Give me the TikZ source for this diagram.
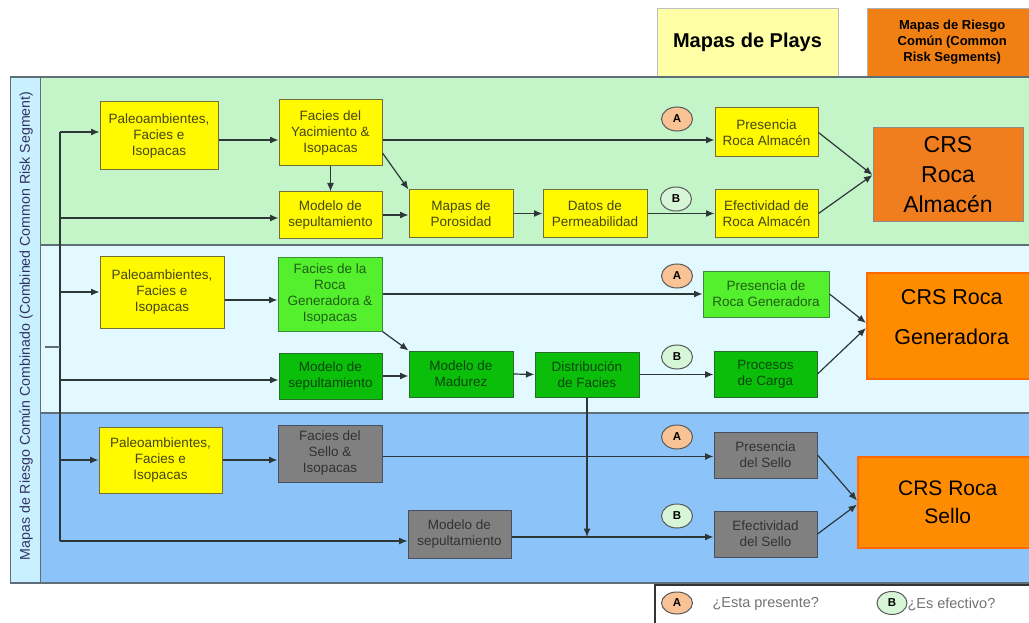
\documentclass[tikz,border=0pt]{standalone}
\usepackage{fontspec}
\setmainfont{Liberation Sans}
\usetikzlibrary{arrows.meta,shapes.geometric}
\definecolor{bandgreen}{RGB}{196,245,200}
\definecolor{bandcyan}{RGB}{226,250,255}
\definecolor{bandblue}{RGB}{140,196,250}
\definecolor{stripcol}{RGB}{200,240,255}
\definecolor{framecol}{RGB}{95,110,120}
\definecolor{linecol}{RGB}{45,55,55}
\definecolor{yfill}{RGB}{255,250,0}
\definecolor{ydraw}{RGB}{115,110,55}
\definecolor{ytext}{RGB}{70,70,20}
\definecolor{lgfill}{RGB}{85,240,45}
\definecolor{lgdraw}{RGB}{60,140,60}
\definecolor{lgtext}{RGB}{30,95,20}
\definecolor{dgfill}{RGB}{10,190,10}
\definecolor{dgdraw}{RGB}{40,110,40}
\definecolor{dgtext}{RGB}{10,70,10}
\definecolor{gfill}{RGB}{128,128,128}
\definecolor{gdraw}{RGB}{70,80,95}
\definecolor{gtext}{RGB}{50,50,50}
\definecolor{crsA}{RGB}{240,125,30}
\definecolor{crsB}{RGB}{255,140,0}
\definecolor{crsBdraw}{RGB}{255,105,0}
\definecolor{afill}{RGB}{250,195,150}
\definecolor{bfill}{RGB}{215,245,215}
\definecolor{hdryellow}{RGB}{255,255,165}
\definecolor{hdrorange}{RGB}{240,128,20}
\begin{document}
\begin{tikzpicture}[x=1pt,y=-1pt,
  box/.style={rectangle, draw, line width=1pt, inner sep=1pt, align=center,
    font=\fontsize{13.5}{16}\selectfont},
  ybox/.style={box, fill=yfill, draw=ydraw, text=ytext},
  lgbox/.style={box, fill=lgfill, draw=lgdraw, text=lgtext},
  dgbox/.style={box, fill=dgfill, draw=dgdraw, text=dgtext},
  gbox/.style={box, fill=gfill, draw=gdraw, text=gtext},
  crs/.style={rectangle, align=center, inner sep=2pt, text=black},
  tagA/.style={ellipse, draw=black!65, line width=1pt, fill=afill, inner sep=0pt,
    minimum width=31pt, minimum height=24pt, font=\bfseries\fontsize{11.5}{12}\selectfont},
  tagB/.style={tagA, fill=bfill},
  conn/.style={draw=linecol, line width=1.2pt},
  arr/.style={conn, -{Latex[length=8.5pt,width=7pt]}},
]
\useasboundingbox (0,0) rectangle (1029,623);
\fill[white] (0,0) rectangle (1029,623);

% headers
\node[rectangle, fill=hdryellow, draw=black!25, minimum width=181pt, minimum height=69pt,
  font=\bfseries\fontsize{20}{22}\selectfont] (hplays) at (747.5,42.5) {Mapas de Plays};
\node[rectangle, fill=hdrorange, draw=black!30, minimum width=170pt, minimum height=69pt,
  align=center, font=\bfseries\fontsize{13}{16}\selectfont, anchor=west] (hcrs) at (867,42.5)
  {Mapas de Riesgo\\Común (Common\\Risk Segments)};

% bands
\fill[bandgreen] (40,78) rectangle (1035,245);
\fill[bandcyan] (40,245) rectangle (1035,413);
\fill[bandblue] (40,413) rectangle (1035,583);
\fill[stripcol] (10,77) rectangle (40,583);
\draw[framecol, line width=1.2pt] (10,77) -- (1035,77);
\draw[framecol, line width=1.2pt] (40,245) -- (1035,245);
\draw[framecol, line width=1.2pt] (40,413) -- (1035,413);
\draw[framecol, line width=1.2pt] (10,583) -- (1035,583);
\draw[framecol, line width=1pt] (10,77) -- (10,583);
\draw[framecol, line width=1pt] (40,77) -- (40,583);

\node[rotate=90, font=\fontsize{14.2}{15}\selectfont, text=black!70!blue!60!gray] (striplabel) at (26,326)
  {Mapas de Riesgo Común Combinado (Combined Common Risk Segment)};

% row 1
\node[ybox, minimum width=118pt, minimum height=68pt] (p1) at (159,136) {Paleoambientes,\\Facies e\\Isopacas};
\node[ybox, minimum width=103pt, minimum height=66pt] (fy) at (330.5,133) {Facies del\\Yacimiento \&\\Isopacas};
\node[ybox, minimum width=103pt, minimum height=46pt] (ms1) at (330.5,215) {Modelo de\\sepultamiento};
\node[ybox, minimum width=104pt, minimum height=47pt] (mp) at (461,213.5) {Mapas de\\Porosidad};
\node[ybox, minimum width=104pt, minimum height=47pt] (dp) at (595,213.5) {Datos de\\Permeabilidad};
\node[ybox, minimum width=103pt, minimum height=49pt] (pra) at (766.5,132.5) {Presencia\\Roca Almacén};
\node[ybox, minimum width=103pt, minimum height=47pt] (era) at (766.5,213.5) {Efectividad de\\Roca Almacén};
\node[crs, fill=crsA, draw=black!45, line width=1pt, minimum width=150pt, minimum height=94pt,
  font=\fontsize{23}{30}\selectfont] (crs1) at (948,175) {CRS\\Roca\\Almacén};
\node[tagA] (a1) at (677,119) {A};
\node[tagB] (b1) at (676,199) {B};

% row 2
\node[ybox, minimum width=124pt, minimum height=72pt] (p2) at (162,292) {Paleoambientes,\\Facies e\\Isopacas};
\node[lgbox, minimum width=104pt, minimum height=74pt] (fg) at (330,294) {Facies de la\\Roca\\Generadora \&\\Isopacas};
\node[dgbox, minimum width=103pt, minimum height=46pt] (ms2) at (330.5,376) {Modelo de\\sepultamiento};
\node[dgbox, minimum width=104pt, minimum height=46pt] (mm) at (461,374) {Modelo de\\Madurez};
\node[dgbox, minimum width=104pt, minimum height=45pt] (df) at (587,374.5) {Distribución\\de Facies};
\node[lgbox, minimum width=126pt, minimum height=46pt] (prg) at (766,294) {Presencia de\\Roca Generadora};
\node[dgbox, minimum width=103pt, minimum height=46pt] (pc) at (765.5,374) {Procesos\\de Carga};
\node[crs, fill=crsB, draw=crsBdraw, line width=1.5pt, minimum width=170pt, minimum height=106pt,
  anchor=west, text depth=18pt, font=\fontsize{21.5}{40}\selectfont] (crs2) at (866,326) {CRS Roca\\Generadora};
\node[tagA] (a2) at (677,276) {A};
\node[tagB] (b2) at (677,357) {B};

% row 3
\node[ybox, minimum width=123pt, minimum height=66pt] (p3) at (160.5,460) {Paleoambientes,\\Facies e\\Isopacas};
\node[gbox, minimum width=104pt, minimum height=57pt] (fs) at (330,453.5) {Facies del\\Sello \&\\Isopacas};
\node[gbox, minimum width=103pt, minimum height=48pt] (ms3) at (459.5,534) {Modelo de\\sepultamiento};
\node[gbox, minimum width=103pt, minimum height=46pt] (ps) at (765.5,455) {Presencia\\del Sello};
\node[gbox, minimum width=103pt, minimum height=46pt] (es) at (765.5,534) {Efectividad\\del Sello};
\node[crs, fill=crsB, draw=crsBdraw, line width=1.5pt, minimum width=180pt, minimum height=91pt,
  anchor=west, font=\fontsize{21}{28}\selectfont] (crs3) at (857,502.5) {CRS Roca\\Sello};
\node[tagA] (a3) at (677,437) {A};
\node[tagB] (b3) at (677,516) {B};

% bus
\coordinate (bustop) at (60,132);
\coordinate (busbot) at (60,541);
\coordinate (stub) at (45,347);
\coordinate (k1) at (60,132);
\coordinate (k2) at (60,218);
\coordinate (k3) at (60,292);
\coordinate (k4) at (60,380);
\coordinate (k5) at (60,460);
\coordinate (k6) at (60,541);
\draw[conn] (bustop) -- (busbot);
\draw[conn, draw=framecol] (stub) -- (stub -| bustop);
\draw[arr] (k1) -- (k1 -| p1.west);
\draw[arr] (k2) -- (k2 -| ms1.west);
\draw[arr] (k3) -- (k3 -| p2.west);
\draw[arr] (k4) -- (k4 -| ms2.west);
\draw[arr] (k5) -- (k5 -| p3.west);
\draw[arr] (k6) -- (k6 -| ms3.west);

% row 1 connectors
\coordinate (p1o) at ([yshift=-4pt]p1.east);
\draw[arr] (p1o) -- (p1o -| fy.west);
\coordinate (fyo) at ([yshift=-7pt]fy.east);
\draw[arr] (fyo) -- (fyo -| pra.west);
\draw[arr] (fy.south) -- (ms1.north);
\coordinate (fyd) at ([yshift=-20pt]fy.east);
\draw[arr] (fyd) -- (mp.north west);
\draw[arr] (ms1.east) -- (ms1.east -| mp.west);
\draw[arr] (mp.east) -- (dp.west);
\draw[arr] (dp.east) -- (era.west);
\draw[arr] (pra.east) -- (crs1.west);
\draw[arr] (era.east) -- (crs1.west);

% row 2 connectors
\coordinate (p2o) at ([yshift=-8pt]p2.east);
\draw[arr] (p2o) -- (p2o -| fg.west);
\draw[arr] (fg.east) -- (fg.east -| prg.west);
\draw[arr] (fg.south east) -- (mm.north west);
\draw[arr] (ms2.east) -- (ms2.east -| mm.west);
\draw[arr] (mm.east) -- (df.west);
\draw[arr] (df.east) -- (df.east -| pc.west);
\draw[arr] (prg.east) -- ([yshift=3pt]crs2.west);
\draw[arr] (pc.east) -- ([yshift=-2pt]crs2.west);

% row 3 connectors
\draw[arr] (p3.east) -- (p3.east -| fs.west);
\coordinate (fso) at ([yshift=-3pt]fs.east);
\draw[arr] (fso) -- (fso -| ps.west);
\coordinate (mso) at ([yshift=-3pt]ms3.east);
\draw[arr] (mso) -- (mso -| es.west);
\draw[arr] (df.south) -- (df.south |- mso);
\draw[arr] (ps.east) -- ([yshift=2pt]crs3.west);
\draw[arr] (es.east) -- ([yshift=-2pt]crs3.west);

% legend
\fill[white] (655,585) rectangle (1035,630);
\draw[black!80, line width=1.5pt] (655,630) -- (655,585) -- (1035,585);
\node[tagA, minimum height=22pt] (la) at (677,603) {A};
\node[anchor=west, text=black!55, font=\fontsize{14.5}{16}\selectfont] (lat) at (709,604) {¿Esta presente?};
\node[tagB, minimum width=30pt, minimum height=23pt] (lb) at (892,603) {B};
\node[anchor=west, text=black!55, font=\fontsize{14.5}{16}\selectfont] (lbt) at (904,604) {¿Es efectivo?};
\end{tikzpicture}
\end{document}
